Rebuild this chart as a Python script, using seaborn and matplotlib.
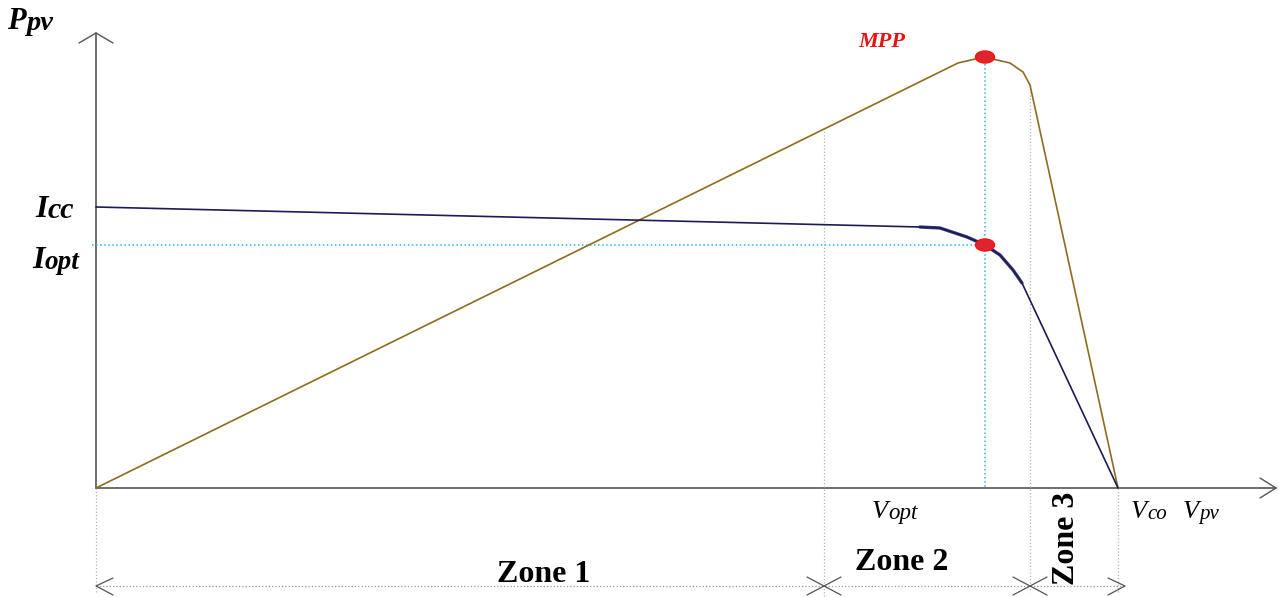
import matplotlib
matplotlib.use("Agg")
import matplotlib.pyplot as plt
import seaborn as sns
import pandas as pd
from matplotlib.patches import Ellipse

# --- data (voltage on x, power / current on y, arbitrary units) ---
p_volt = [0, 862, 888, 914, 927, 934, 1022]
p_power = [0, 425, 431, 425, 416, 403, 0]

i_volt = [0, 824, 844, 871, 889, 904, 917, 926, 1022]
i_curr = [281, 261, 260, 251, 243, 233, 218, 205, 0]

v_opt = 889
p_max = 431
i_opt = 243
i_cc = 281
v_co = 1022
zone_bounds = [0, 728, 934, 1022]

power_df = pd.DataFrame({"V": p_volt, "P": p_power})
curr_df = pd.DataFrame({"V": i_volt, "I": i_curr})

sns.set_style("white")
plt.rcParams['font.family'] = ['Liberation Serif', 'DejaVu Serif']
plt.rcParams['text.color'] = 'black'

fig = plt.figure(figsize=(12.79, 5.97), dpi=100)
ax = fig.add_axes([0, 0, 1, 1])
ax.set_xlim(-96, 1183)
ax.set_ylim(-109, 488)
ax.axis("off")

axis_col = "#555555"
grey_dot = "#b4b4b4"
cyan = "#22bbe8"

# axes with open arrow heads
ax.plot([0, 1180], [0, 0], color=axis_col, lw=1.2)
ax.plot([0, 0], [0, 455], color=axis_col, lw=1.2)
ax.plot([-17, 0, 17], [445, 455, 445], color=axis_col, lw=1.0)
ax.plot([1164, 1180, 1164], [10, 0, -10], color=axis_col, lw=1.0)

# zone separators
ax.plot([zone_bounds[1]] * 2, [360, -109], color=grey_dot, lw=0.9, ls=":")
ax.plot([zone_bounds[2]] * 2, [403, -104], color=grey_dot, lw=0.9, ls=":")
ax.plot([zone_bounds[0]] * 2, [0, -104], color=grey_dot, lw=0.9, ls=":")
ax.plot([zone_bounds[3]] * 2, [0, -104], color=grey_dot, lw=0.9, ls=":")

# zone dimension line
zy = -98
ax.plot([0, zone_bounds[3] + 7], [zy, zy], color="#999999", lw=0.9, ls=":")
ax.plot([17, 0, 17], [zy + 8, zy, zy - 9], color=axis_col, lw=0.9)
ax.plot([zone_bounds[3] - 10, zone_bounds[3] + 7, zone_bounds[3] - 10],
        [zy + 8, zy, zy - 9], color=axis_col, lw=0.9)
for xb in zone_bounds[1:3]:
    ax.plot([xb - 17, xb + 17], [zy + 9, zy - 9], color=axis_col, lw=0.9)
    ax.plot([xb - 17, xb + 17], [zy - 9, zy + 9], color=axis_col, lw=0.9)

# optimum guide lines
ax.plot([v_opt, v_opt], [p_max - 3, 0], color=cyan, lw=1.1, ls=":")
ax.plot([-4, v_opt], [i_opt, i_opt], color=cyan, lw=1.1, ls=":")

# curves
sns.lineplot(data=power_df, x="V", y="P", sort=False, color="#8c6d1f",
             lw=1.2, ax=ax, legend=False)
sns.lineplot(data=curr_df, x="V", y="I", sort=False, color="#1b1b5a",
             lw=1.2, ax=ax, legend=False)
sns.lineplot(data=curr_df.iloc[1:8], x="V", y="I", sort=False, color="#1b1b5a",
             lw=2.4, ax=ax, legend=False, alpha=0.85)

# MPP markers
for yv in [p_max, i_opt]:
    ax.add_patch(Ellipse((v_opt, yv), 19, 12, facecolor="#dd2530",
                         edgecolor="#ff1010", lw=1.0, zorder=5))

ax.set_xlabel("")
ax.set_ylabel("")

fig.canvas.draw()
renderer = fig.canvas.get_renderer()


def sub_label(x, y, main, sub, big, small, weight="normal", drop=1):
    # main letter followed by a smaller subscript-like suffix
    t = ax.text(x, y, main, fontsize=big, fontweight=weight, fontstyle="italic",
                ha="left", va="baseline", color="black")
    bb = t.get_window_extent(renderer=renderer)
    x1 = ax.transData.inverted().transform((bb.x1, 0))[0]
    ax.text(x1, y - drop, sub, fontsize=small, fontweight=weight,
            fontstyle="italic", ha="left", va="baseline", color="black")


sub_label(-89, 459, "P", "pv", 22, 20.5, "bold")
sub_label(-61, 271, "I", "cc", 23, 21.5, "bold")
sub_label(-64, 220, "I", "opt", 23, 19.5, "bold")
sub_label(776, -30, "V", "opt", 19, 16.5)
sub_label(1035, -30, "V", "co", 19, 15)
sub_label(1087, -30, "V", "pv", 19, 15)

ax.text(762, 441, "MPP", fontsize=16, ha="left", va="baseline",
        color="#ee1111", fontweight="bold", fontstyle="italic")
zb = dict(fontsize=23, fontweight="bold", color="black")
ax.text(448, -94, "Zone 1", ha="center", va="baseline", **zb)
ax.text(806, -82, "Zone 2", ha="center", va="baseline", **zb)
ax.text(971, -50, "Zone 3", ha="center", va="center", rotation=90, **zb)

fig.savefig("out.png", dpi=100, facecolor="white")
